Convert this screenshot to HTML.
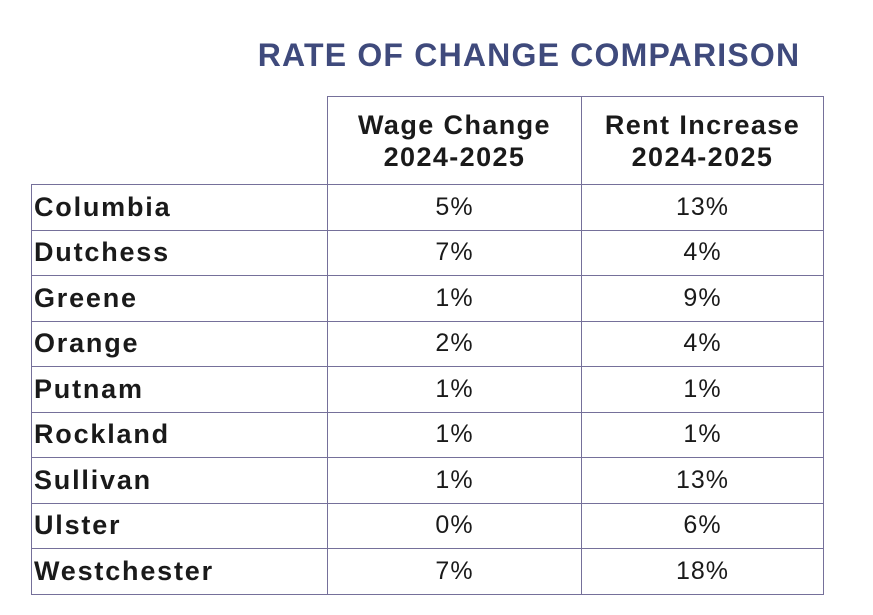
<!DOCTYPE html>
<html><head><meta charset="utf-8"><style>
body{margin:0;width:873px;height:615px;background:#fff;font-family:"Liberation Sans",sans-serif;position:relative;overflow:hidden}
#title{position:absolute;left:200px;width:658px;top:37px;text-align:center;font-size:32px;font-weight:bold;color:#3f4a7c;letter-spacing:1.2px}
.c{position:absolute;box-sizing:border-box;border:1px solid #75709a;display:flex;align-items:center;font-size:25px;color:#1a1a1a}
.n{font-weight:bold;padding-left:2px;font-size:27px;letter-spacing:1.8px}
.v{justify-content:center;letter-spacing:1px}
.h{justify-content:center;text-align:center;font-weight:bold;font-size:27px;line-height:32px;letter-spacing:1.4px}
</style></head><body>
<div id="title">RATE OF CHANGE COMPARISON</div>
<div id="t"></div>
<script>
const counties=["Columbia","Dutchess","Greene","Orange","Putnam","Rockland","Sullivan","Ulster","Westchester"];
const wage=[5,7,1,2,1,1,1,0,7];
const rent=[13,4,9,4,1,1,13,6,18];
const headers=["Wage Change<br>2024-2025","Rent Increase<br>2024-2025"];
const t=document.getElementById('t');
const cols=[31,327,581,823];
const top0=96,hdrB=184,rowH=45.5;
function cell(x1,x2,y1,y2,cls,html,name){
 const d=document.createElement('div');
 d.className='c '+cls;
 d.style.left=x1+'px';d.style.top=y1+'px';
 d.style.width=(x2-x1+1)+'px';d.style.height=(y2-y1+1)+'px';
 d.innerHTML=html;
 
 
 t.appendChild(d);
}
headers.forEach((h,i)=>cell(cols[i+1],cols[i+2],top0,hdrB,'h',h,'column-header'));
counties.forEach((c,i)=>{
 const y1=hdrB+i*rowH,y2=hdrB+(i+1)*rowH;
 cell(cols[0],cols[1],y1,y2,'n',c,'county-name');
 cell(cols[1],cols[2],y1,y2,'v',wage[i]+'%','wage-change-value');
 cell(cols[2],cols[3],y1,y2,'v',rent[i]+'%','rent-increase-value');
});
</script>
</body></html>
